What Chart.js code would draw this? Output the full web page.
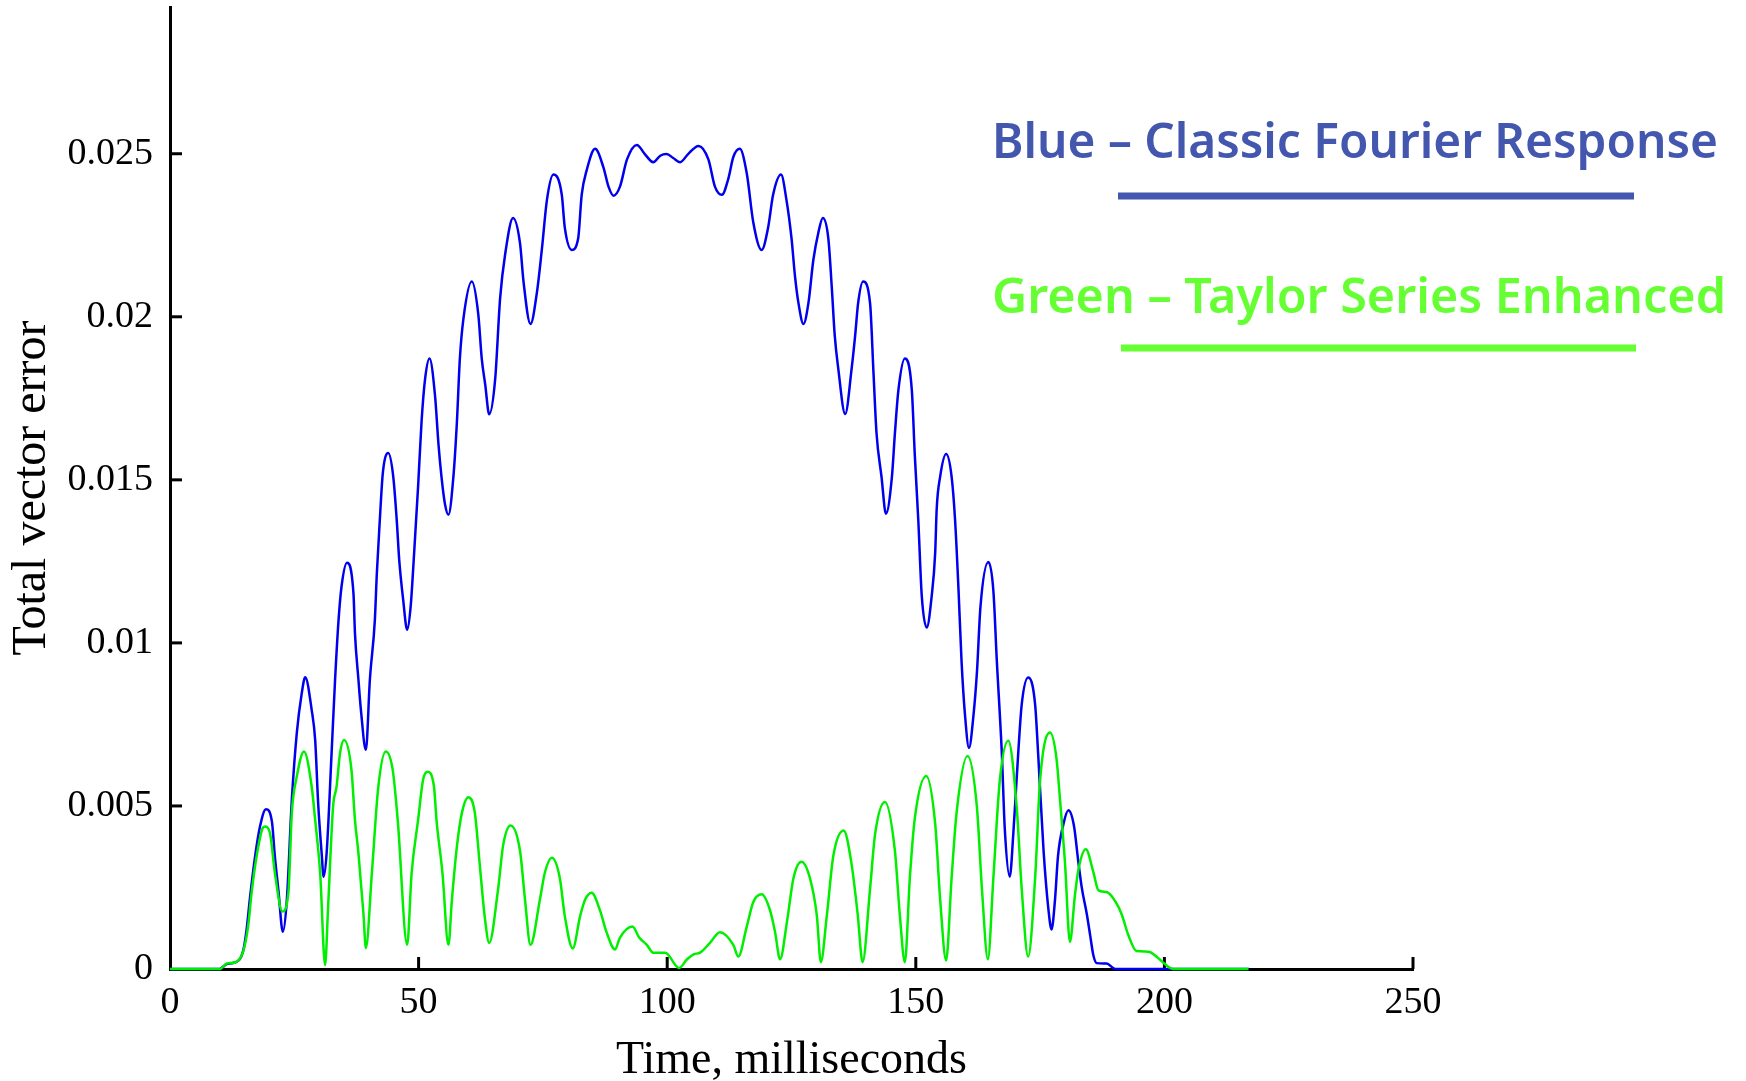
<!DOCTYPE html>
<html>
<head>
<meta charset="utf-8">
<script src="https://cdn.jsdelivr.net/npm/chart.js@4.4.0/dist/chart.umd.min.js"></script>
<style>
html,body{margin:0;padding:0;background:#ffffff;}
canvas{display:block;}
</style>
</head>
<body>
<canvas id="c" width="1746" height="1081"></canvas>
<script>
// ---- Data (time in ms, total vector error) ----
const blueTime = [0,10,11.4,13.1,14.7,15.4,16.1,17.1,18.1,19.3,20.5,21.1,21.8,22.7,23.5,24.5,25.5,26.5,27.2,28.5,29.2,29.8,30.5,30.9,31.5,32.5,33.2,33.9,34.5,35.6,36.9,37.2,37.9,38.4,39.4,40.2,41.2,41.6,42.2,42.8,43.9,44.9,45.6,46.1,46.9,47.7,48.4,49.1,49.9,50.6,51.3,52.2,53.3,54.0,54.6,55.3,56.0,57.0,57.7,58.3,59.0,60.7,62.0,62.7,63.4,64.2,65.4,66.4,67.4,69.0,70.4,71.1,72.5,73.8,74.8,75.8,77.1,78.8,79.4,80.8,82.1,82.8,83.8,85.5,87.2,88.2,89.2,90.5,91.9,93.9,95.5,97.2,98.6,99.9,101.2,102.6,104.2,106.3,108.3,109.6,111.0,112.3,113.3,114.6,116.0,117.3,119.0,120.3,121.3,122.9,124.0,125.0,125.7,126.4,127.4,128.4,129.4,130.4,131.3,132.4,133.1,133.7,134.4,135.8,137.1,137.8,138.4,139.4,140.8,141.5,142.1,143.1,144.0,145.2,145.8,146.5,147.8,149.2,149.8,150.5,151.2,152.2,153.2,153.9,154.2,154.9,156.1,157.2,157.9,158.6,159.2,159.9,160.7,161.6,162.3,163.0,164.6,165.6,166.3,167.3,167.9,168.9,169.6,170.6,171.3,172.6,174.0,174.6,175.7,176.7,177.3,178.0,178.6,179.7,180.7,181.8,182.7,183.4,184.4,185.1,185.7,186.4,188.4,189.7,190.5,217];
const blueError = [0,0,0.00015,0.00020,0.00055,0.00120,0.00220,0.00344,0.00437,0.00490,0.00452,0.00344,0.00242,0.00114,0.00212,0.00518,0.00723,0.00846,0.00895,0.00794,0.00702,0.00508,0.00355,0.00283,0.00355,0.00662,0.00887,0.01070,0.01173,0.01246,0.01152,0.01030,0.00887,0.00794,0.00672,0.00887,0.01070,0.01213,0.01377,0.01520,0.01582,0.01510,0.01377,0.01255,0.01132,0.01040,0.01111,0.01275,0.01480,0.01680,0.01809,0.01872,0.01759,0.01609,0.01510,0.01426,0.01393,0.01510,0.01676,0.01872,0.01992,0.02108,0.02008,0.01872,0.01792,0.01701,0.01809,0.02058,0.02191,0.02303,0.02225,0.02108,0.01978,0.02075,0.02208,0.02357,0.02436,0.02374,0.02274,0.02205,0.02241,0.02374,0.02449,0.02515,0.02457,0.02399,0.02371,0.02399,0.02482,0.02527,0.02499,0.02474,0.02494,0.02499,0.02487,0.02474,0.02499,0.02524,0.02482,0.02399,0.02374,0.02424,0.02490,0.02515,0.02440,0.02291,0.02205,0.02274,0.02374,0.02436,0.02357,0.02241,0.02125,0.02042,0.01978,0.02042,0.02175,0.02258,0.02303,0.02241,0.02091,0.01942,0.01842,0.01702,0.01842,0.01942,0.02042,0.02108,0.02042,0.01825,0.01643,0.01510,0.01396,0.01510,0.01643,0.01775,0.01872,0.01775,0.01576,0.01377,0.01144,0.01047,0.01144,0.01277,0.01410,0.01510,0.01579,0.01510,0.01377,0.01160,0.00944,0.00778,0.00678,0.00778,0.00911,0.01110,0.01248,0.01160,0.00944,0.00662,0.00429,0.00283,0.00412,0.00662,0.00811,0.00894,0.00811,0.00662,0.00362,0.00179,0.00121,0.00213,0.00346,0.00445,0.00487,0.00440,0.00327,0.00248,0.00168,0.00100,0.00043,0.00018,0.00017,0.00003,0,0];

const greenTime = [0,10.1,11.4,13.1,14.7,15.7,16.4,17.4,18.6,19.1,20.1,21.1,22.6,23.8,24.5,25.5,26.95,28.5,29.2,30.2,31.2,31.8,32.8,33.5,34.2,35.0,36.5,37.2,37.9,38.9,39.4,40.6,41.9,43.4,44.8,45.8,47.7,48.6,49.9,50.9,51.8,53.1,53.6,54.8,56.0,56.7,57.7,58.7,60.0,61.3,62.3,63.3,64.2,66.0,67.0,68.5,70.4,71.4,72.5,74.4,75.4,76.8,78.4,79.4,81.0,82.5,83.5,84.8,86.5,87.8,89.5,90.5,93.0,94.4,95.9,97.2,99.6,102.4,104.0,105.3,106.6,108.6,110.6,113.3,114.3,116.0,117.3,119.0,120.7,121.7,122.7,124.1,125.4,127.0,128.7,130.1,130.9,132.1,133.4,135.5,137.0,138.3,139.3,140.8,141.8,143.8,145.8,146.8,147.8,148.8,149.8,152.1,153.9,154.9,156.1,157.2,158.2,160.4,162.3,163.3,164.5,165.6,166.9,168.6,170.3,171.3,172.6,174.0,175.0,177.0,178.3,179.0,180.0,181.0,182.0,182.7,184.2,185.7,186.7,188.4,190.1,191.4,192.7,194.4,196.8,198.5,200.1,201.8,216.9];
const greenError = [0,0,0.00017,0.00020,0.00053,0.00130,0.00232,0.00344,0.00431,0.00437,0.00417,0.00294,0.00176,0.00232,0.00478,0.00590,0.00667,0.00559,0.00457,0.00294,0.00012,0.00191,0.00498,0.00559,0.00662,0.00702,0.00610,0.00457,0.00355,0.00171,0.00064,0.00294,0.00559,0.00667,0.00610,0.00457,0.00074,0.00294,0.00457,0.00580,0.00605,0.00559,0.00457,0.00294,0.00074,0.00212,0.00375,0.00478,0.00527,0.00480,0.00320,0.00160,0.00080,0.00246,0.00379,0.00440,0.00362,0.00213,0.00074,0.00213,0.00296,0.00341,0.00279,0.00163,0.00063,0.00163,0.00213,0.00234,0.00179,0.00113,0.00060,0.00096,0.00130,0.00096,0.00074,0.00050,0.00050,0.00003,0.00030,0.00045,0.00050,0.00080,0.00113,0.00074,0.00038,0.00130,0.00205,0.00229,0.00179,0.00113,0.00030,0.00146,0.00279,0.00329,0.00279,0.00163,0.00021,0.00163,0.00346,0.00425,0.00330,0.00170,0.00021,0.00246,0.00412,0.00512,0.00362,0.00163,0.00021,0.00279,0.00462,0.00592,0.00445,0.00213,0.00026,0.00279,0.00479,0.00653,0.00495,0.00246,0.00030,0.00279,0.00579,0.00700,0.00495,0.00246,0.00038,0.00279,0.00579,0.00725,0.00645,0.00520,0.00327,0.00083,0.00225,0.00304,0.00367,0.00298,0.00242,0.00236,0.00208,0.00168,0.00106,0.00055,0.00053,0.00037,0.00015,0,0];

const xTickValues = [0,50,100,150,200,250];
const xTickLabels = ['0','50','100','150','200','250'];
const yTickValues = [0,0.005,0.01,0.015,0.02,0.025];
const yTickLabels = ['0','0.005','0.01','0.015','0.02','0.025'];
const xTitle = 'Time, milliseconds';
const yTitle = 'Total vector error';
const legendLabels = ['Blue \u2013 Classic Fourier Response', 'Green \u2013 Taylor Series Enhanced'];

// ---- Chart ----
const serif = '"Liberation Serif", "Times New Roman", serif';

const decor = {
  id: 'decor',
  beforeDatasetsDraw(chart) {
    const {ctx, chartArea, scales} = chart;
    ctx.save();
    ctx.strokeStyle = '#000';
    ctx.lineWidth = 3;
    scales.x.ticks.forEach(t => {
      if (t.value === 0) return;
      const px = scales.x.getPixelForValue(t.value);
      ctx.beginPath(); ctx.moveTo(px, chartArea.bottom); ctx.lineTo(px, chartArea.bottom - 12); ctx.stroke();
    });
    scales.y.ticks.forEach(t => {
      if (t.value === 0) return;
      const py = scales.y.getPixelForValue(t.value);
      ctx.beginPath(); ctx.moveTo(chartArea.left, py); ctx.lineTo(chartArea.left + 12, py); ctx.stroke();
    });
    ctx.restore();
  },
  afterDatasetsDraw(chart) {
    const ctx = chart.ctx;
    const items = [
      {text: legendLabels[0], color: '#4357ae', left: 992, base: 158, width: 726, line: [1118, 192.5, 516, 7]},
      {text: legendLabels[1], color: '#66ff33', left: 992, base: 313, width: 734, line: [1121, 344.5, 515, 7]}
    ];
    items.forEach(it => {
      ctx.save();
      ctx.font = '600 49px "Noto Sans", "Open Sans", sans-serif';
      const w = ctx.measureText(it.text).width;
      ctx.translate(it.left, it.base);
      ctx.scale(it.width / w, 1);
      ctx.fillStyle = it.color;
      ctx.textBaseline = 'alphabetic';
      ctx.textAlign = 'left';
      ctx.fillText(it.text, 0, 0);
      ctx.restore();
      ctx.save();
      ctx.fillStyle = it.color;
      ctx.fillRect(it.line[0], it.line[1], it.line[2], it.line[3]);
      ctx.restore();
    });
  }
};

new Chart(document.getElementById('c'), {
  type: 'line',
  data: {
    datasets: [
      {
        label: 'Green',
        data: greenTime.map((t, i) => ({x: t, y: greenError[i]})),
        borderColor: '#00ee00',
        borderWidth: 2.5,
        pointRadius: 0,
        fill: false,
        cubicInterpolationMode: 'monotone',
        clip: false
      },
      {
        label: 'Blue',
        data: blueTime.map((t, i) => ({x: t, y: blueError[i]})),
        borderColor: '#0000ee',
        borderWidth: 2.5,
        pointRadius: 0,
        fill: false,
        cubicInterpolationMode: 'monotone',
        clip: false
      }
    ]
  },
  options: {
    responsive: false,
    animation: false,
    devicePixelRatio: 1,
    events: [],
    layout: {padding: {left: 0, right: 333, top: 7, bottom: 0}},
    plugins: {legend: {display: false}, tooltip: {enabled: false}},
    scales: {
      x: {
        type: 'linear',
        min: 0,
        max: 250,
        afterBuildTicks: (scale) => { scale.ticks = xTickValues.map(v => ({value: v})); },
        afterFit: (scale) => { scale.height = 112; scale.paddingLeft = 0; scale.paddingRight = 0; },
        grid: {display: false, drawTicks: false},
        border: {display: true, color: '#000', width: 3},
        ticks: {
          padding: 11,
          color: '#000',
          font: {family: serif, size: 38},
          maxRotation: 0,
          autoSkip: false,
          callback: (v, i) => xTickLabels[i]
        },
        title: {
          display: true,
          text: xTitle,
          color: '#000',
          font: {family: serif, size: 46, lineHeight: 1},
          padding: {top: 0, bottom: -3}
        }
      },
      y: {
        type: 'linear',
        min: 0,
        max: 0.0295,
        afterBuildTicks: (scale) => { scale.ticks = yTickValues.map(v => ({value: v})); },
        afterFit: (scale) => { scale.width = 170; scale.paddingTop = 0; scale.paddingBottom = 0; },
        grid: {display: false, drawTicks: false},
        border: {display: true, color: '#000', width: 3},
        ticks: {
          padding: 17,
          color: '#000',
          font: {family: serif, size: 38},
          autoSkip: false,
          callback: (v, i) => yTickLabels[i]
        },
        title: {
          display: true,
          text: yTitle,
          color: '#000',
          font: {family: serif, size: 48, lineHeight: 1},
          padding: {top: 8, bottom: 0}
        }
      }
    }
  },
  plugins: [decor]
});
</script>
</body>
</html>
